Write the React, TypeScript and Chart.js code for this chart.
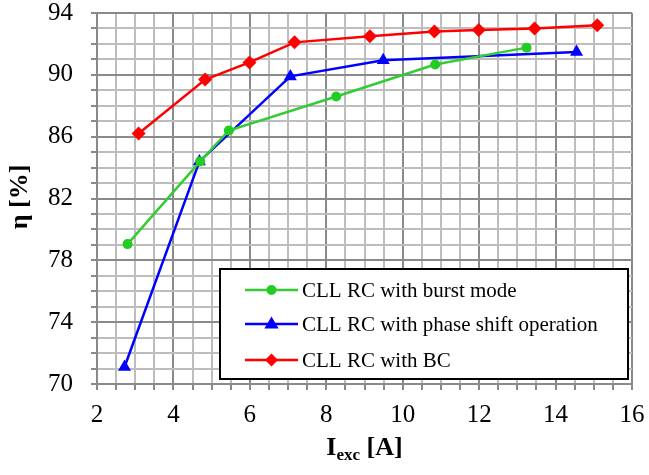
import React, { useEffect, useRef } from "react";
import { Chart, registerables } from "chart.js";

Chart.register(...registerables);

const burstX = [2.8, 4.7, 5.45, 8.26, 10.85, 13.24];
const burstY = [79.05, 84.4, 86.4, 88.6, 90.67, 91.76];
const phaseX = [2.72, 4.68, 7.06, 9.49, 14.55];
const phaseY = [71.1, 84.4, 89.9, 90.94, 91.48];
const bcX = [3.09, 4.83, 5.99, 7.17, 9.14, 10.83, 11.99, 13.45, 15.09];
const bcY = [86.2, 89.7, 90.8, 92.1, 92.5, 92.8, 92.9, 93.0, 93.2];

const seriesNames = [
  "CLL RC with burst mode",
  "CLL RC with phase shift operation",
  "CLL RC with BC",
];
const seriesColors = ["#22cc22", "#0000ff", "#ff0000"];
const lineColors = ["#33cc33", "#0000ff", "#ff0000"];
const xTitleMain = "I";
const xTitleSub = "exc";
const xTitleRest = " [A]";
const yTitle = "η [%]";

const FONT = '"Liberation Serif", "Times New Roman", serif';

function pts(xs: number[], ys: number[]) {
  return xs.map((x, i) => ({ x, y: ys[i] }));
}

function drawMarker(ctx: CanvasRenderingContext2D, kind: number, x: number, y: number) {
  ctx.fillStyle = seriesColors[kind];
  ctx.beginPath();
  if (kind === 0) {
    ctx.arc(x, y, 5, 0, Math.PI * 2);
  } else if (kind === 1) {
    const r = 7.5;
    ctx.moveTo(x, y - r);
    ctx.lineTo(x + r * 0.95, y + r * 0.6);
    ctx.lineTo(x - r * 0.95, y + r * 0.6);
    ctx.closePath();
  } else {
    const r = 6.5;
    ctx.moveTo(x, y - r);
    ctx.lineTo(x + r, y);
    ctx.lineTo(x, y + r);
    ctx.lineTo(x - r, y);
    ctx.closePath();
  }
  ctx.fill();
}

const overlayPlugin = {
  id: "overlay",
  afterDraw(chart: any) {
    const ctx: CanvasRenderingContext2D = chart.ctx;
    const ca = chart.chartArea;
    ctx.save();
    // Legend box
    const lx = 220, ly = 269, lw = 408, lh = 110;
    ctx.fillStyle = "#ffffff";
    ctx.fillRect(lx, ly, lw, lh);
    ctx.strokeStyle = "#000000";
    ctx.lineWidth = 2;
    ctx.strokeRect(lx, ly, lw, lh);
    const rows = [290, 324, 360];
    ctx.font = `21px ${FONT}`;
    ctx.textBaseline = "middle";
    ctx.textAlign = "left";
    rows.forEach((ry, i) => {
      ctx.strokeStyle = lineColors[i];
      ctx.lineWidth = 2.5;
      ctx.beginPath();
      ctx.moveTo(245, ry);
      ctx.lineTo(298, ry);
      ctx.stroke();
      drawMarker(ctx, i, 271.5, ry);
      ctx.fillStyle = "#000000";
      ctx.fillText(seriesNames[i], 302, ry + 1);
    });
    // X title with subscript
    ctx.fillStyle = "#000000";
    ctx.textBaseline = "alphabetic";
    ctx.font = `bold 26px ${FONT}`;
    const mainW = ctx.measureText(xTitleMain).width;
    ctx.font = `bold 17px ${FONT}`;
    const subW = ctx.measureText(xTitleSub).width;
    ctx.font = `bold 26px ${FONT}`;
    const restW = ctx.measureText(xTitleRest).width;
    const total = mainW + subW + restW;
    const cx = (ca.left + ca.right) / 2;
    let tx = cx - total / 2;
    const baseY = 455;
    ctx.fillText(xTitleMain, tx, baseY);
    tx += mainW;
    ctx.font = `bold 17px ${FONT}`;
    ctx.fillText(xTitleSub, tx, baseY + 5);
    tx += subW;
    ctx.font = `bold 26px ${FONT}`;
    ctx.fillText(xTitleRest, tx, baseY);
    // Y title
    ctx.translate(20, 197);
    ctx.rotate(-Math.PI / 2);
    ctx.textAlign = "center";
    ctx.textBaseline = "middle";
    ctx.font = `bold 26px ${FONT}`;
    ctx.fillText(yTitle, 0, 0);
    ctx.restore();
  },
};

export default function App() {
  const ref = useRef<HTMLCanvasElement>(null);
  useEffect(() => {
    if (!ref.current) return;
    const datasets = [
      { data: pts(burstX, burstY), kind: 0, style: "circle", radius: 5 },
      { data: pts(phaseX, phaseY), kind: 1, style: "triangle", radius: 7.5 },
      { data: pts(bcX, bcY), kind: 2, style: "rectRot", radius: 7 },
    ].map((d) => ({
      label: seriesNames[d.kind],
      data: d.data,
      showLine: true,
      borderColor: lineColors[d.kind],
      backgroundColor: seriesColors[d.kind],
      pointBackgroundColor: seriesColors[d.kind],
      pointBorderColor: seriesColors[d.kind],
      pointBorderWidth: 0,
      borderWidth: 2.5,
      pointStyle: d.style,
      pointRadius: d.radius,
      tension: 0,
    }));
    const chart = new Chart(ref.current, {
      type: "scatter",
      data: { datasets },
      plugins: [overlayPlugin],
      options: {
        animation: false,
        responsive: false,
        layout: { padding: { left: 0, right: 17, top: 13, bottom: 0 } },
        plugins: { legend: { display: false }, tooltip: { enabled: false } },
        scales: {
          x: {
            type: "linear",
            min: 2,
            max: 16,
            afterFit: (s: any) => {
              s.height = 91;
              s.paddingLeft = 0;
              s.paddingRight = 0;
            },
            ticks: {
              stepSize: 0.5,
              autoSkip: false,
              maxRotation: 0,
              padding: 10,
              color: "#000",
              font: { family: FONT, size: 25 },
              callback: (v: any) => (Math.abs(v % 2) < 1e-6 ? String(v) : ""),
            },
            grid: {
              color: (c: any) =>
                c.tick && Math.abs(c.tick.value % 2) < 1e-6 ? "#8a8a8a" : "#bdbdbd",
              lineWidth: 2,
              tickLength: 6,
              tickColor: "#8a8a8a",
            },
            border: { color: "#8a8a8a", width: 2 },
          },
          y: {
            type: "linear",
            min: 70,
            max: 94,
            afterFit: (s: any) => {
              s.width = 97;
              s.paddingTop = 0;
              s.paddingBottom = 0;
            },
            ticks: {
              stepSize: 1,
              autoSkip: false,
              padding: 18,
              color: "#000",
              font: { family: FONT, size: 25 },
              callback: (v: any) => ((v - 70) % 4 === 0 ? String(v) : ""),
            },
            grid: {
              color: (c: any) =>
                c.tick && (c.tick.value - 70) % 4 === 0 ? "#8a8a8a" : "#bdbdbd",
              lineWidth: 2,
              tickLength: 6,
              tickColor: "#8a8a8a",
            },
            border: { color: "#8a8a8a", width: 2 },
          },
        },
      },
    } as any);
    return () => chart.destroy();
  }, []);
  return (
    <div style={{ position: "fixed", left: 0, top: 0, width: 649, height: 475, background: "#fff" }}>
      <canvas ref={ref} width={649} height={475} style={{ width: 649, height: 475, display: "block" }} />
    </div>
  );
}
